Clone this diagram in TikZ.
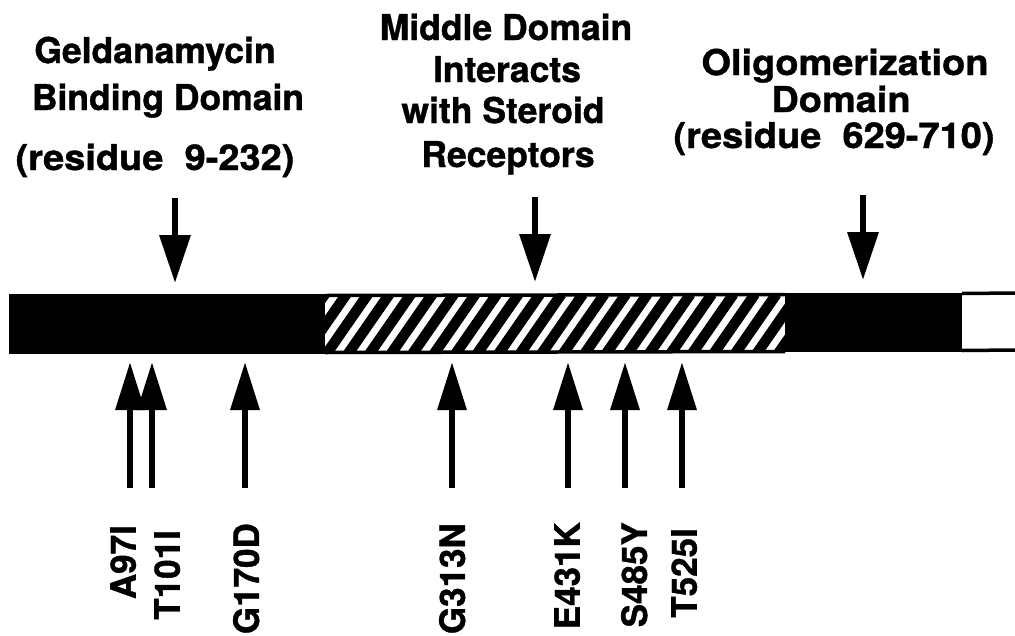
\documentclass[tikz,border=0pt]{standalone}
\usepackage{fontspec}
\setmainfont{TeX Gyre Heros}
\newfontfamily\hfont{TeX Gyre Heros}[FakeBold=1.1]
\newfontfamily\hwide{TeX Gyre Heros}[FakeBold=1.1,FakeStretch=1.07]
\usetikzlibrary{arrows.meta}
\tikzset{
  hdr/.style={inner sep=0pt, anchor=base, font=\hfont\bfseries\fontsize{35.5}{40}\selectfont},
  hdrw/.style={inner sep=0pt, anchor=base, font=\hwide\bfseries\fontsize{35.5}{40}\selectfont},
  mut/.style={inner sep=0pt, rotate=90, anchor=east, text depth=0pt, font=\hfont\bfseries\fontsize{35}{40}\selectfont},
  downarr/.style={line width=6.5pt, -{Triangle[length=48pt,width=30pt]}},
  uparr/.style={line width=6.5pt, -{Triangle[length=48pt,width=28pt]}},
  stripe/.style={line width=10.5pt},
  edge/.style={line width=3.5pt}
}
\begin{document}
\begin{tikzpicture}[x=1pt,y=-1pt]
\useasboundingbox (0,0) rectangle (1015,635);
% headers
\node[hdr] (g1) at (155,63) {Geldanamycin};
\node[hdr] (g2) at (168,110) {Binding Domain};
\node[hdrw] (g3) at (155,170) {(residue\ \ 9-232)};
\node[hdr] (m1) at (506,40) {Middle Domain};
\node[hdr] (m2) at (507,82) {Interacts};
\node[hdr] (m3) at (503,123) {with Steroid};
\node[hdr] (m4) at (508,167) {Receptors};
\node[hdrw] (o1) at (845,75) {Oligomerization};
\node[hdrw] (o2) at (841,112) {Domain};
\node[hdrw] (o3) at (834,148) {(residue\ \ 629-710)};
% bar
\fill (9,294) rectangle (325,354);
\fill (785,293) rectangle (962,352);
\begin{scope}
  \clip (325,296) rectangle (785,352);
  \foreach \i in {-2,...,23} {
    \draw[stripe] (325+\i*21.5,356) -- ++(43,-62);
  }
\end{scope}
\draw[edge] (325,295.5) -- (785,294.5);
\draw[edge] (325,352.5) -- (785,351.5);
\draw[edge] (962,293.5) -- (1015,293);
\draw[edge] (962,350.5) -- (1015,350);
% domain arrows
\coordinate (ga) at (175,198);
\coordinate (gb) at (175,283);
\coordinate (ma) at (535,197);
\coordinate (mb) at (535,282);
\coordinate (oa) at (863,195);
\coordinate (ob) at (863,280);
\draw[downarr] (ga) -- (gb);
\draw[downarr] (ma) -- (mb);
\draw[downarr] (oa) -- (ob);
% mutation arrows
\foreach \n/\x in {a/130,t/152,g/245,h/452,e/568,s/625,u/682} {
  \coordinate (\n0) at (\x,488);
  \coordinate (\n1) at (\x,362);
  \draw[uparr] (\n0) -- (\n1);
}
\node[mut] (la) at (123,525) {A97I};
\node[mut] (lt) at (167,530) {T101I};
\node[mut] (lg) at (246,523) {G170D};
\node[mut] (lh) at (452,523) {G313N};
\node[mut] (le) at (567,522) {E431K};
\node[mut] (ls) at (634,522) {S485Y};
\node[mut] (lu) at (684,528) {T525I};
\end{tikzpicture}
\end{document}
